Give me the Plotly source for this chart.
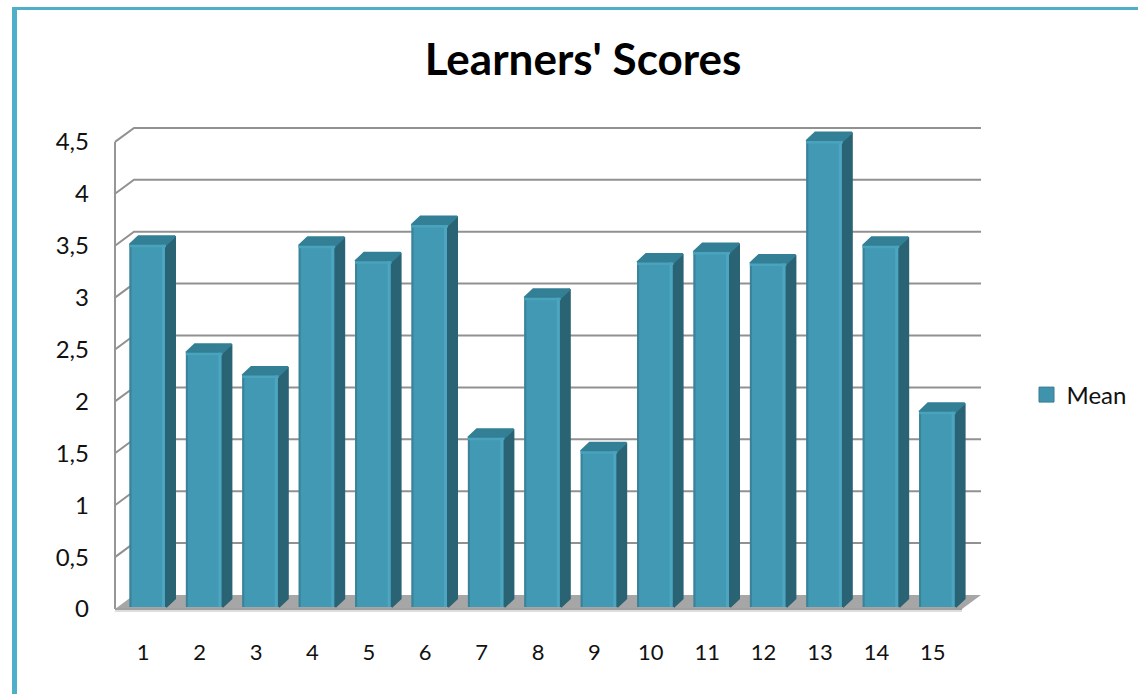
import plotly.graph_objects as go

categories = list(range(1, 16))
means = [3.49, 2.45, 2.23, 3.48, 3.33, 3.68, 1.63, 2.98, 1.50, 3.32, 3.42, 3.31, 4.49, 3.48, 1.88]
y_ticks = [0, 0.5, 1, 1.5, 2, 2.5, 3, 3.5, 4, 4.5]
y_labels = ['0', '0,5', '1', '1,5', '2', '2,5', '3', '3,5', '4', '4,5']

FONT = "Lato"
W, H = 1138, 694
PX_X = 56.4    # pixels per category
PX_Y = 103.8   # pixels per y unit

# plot box in page pixels, a little bigger than the drawn walls so edges are not clipped
LEFT, RIGHT, TOP, BOTTOM = 112, 984, 125, 613
FLOOR_LEFT, FLOOR_Y = 115, 609
x_range = [0.5 - (FLOOR_LEFT - LEFT) / PX_X, 0.5 + (RIGHT - FLOOR_LEFT) / PX_X]
y_range = [-(BOTTOM - FLOOR_Y) / PX_Y, (FLOOR_Y - TOP) / PX_Y]

# fake 3d depth, in data units
wall_dx, wall_dy = 19 / PX_X, 14 / PX_Y
bar_dx, bar_dy = 9 / PX_X, 8.5 / PX_Y
bar_w = 36.5 / PX_X
bar_off = -13.7 / PX_X
bar_base = 2 / PX_Y


def polys(rects):
    xs, ys = [], []
    for pts in rects:
        xs += [p[0] for p in pts] + [pts[0][0], None]
        ys += [p[1] for p in pts] + [pts[0][1], None]
    return xs, ys


def face(rects, color, width=0):
    xs, ys = polys(rects)
    return go.Scatter(x=xs, y=ys, mode='lines', fill='toself', fillcolor=color,
                      line=dict(width=width, color=color), hoverinfo='skip', showlegend=False)


side, top, light, dark, cap = [], [], [], [], []
for c, v in zip(categories, means):
    l = c + bar_off
    r = l + bar_w
    t = bar_base + v
    side.append([(r, bar_base), (r + bar_dx, bar_base + bar_dy), (r + bar_dx, t + bar_dy), (r, t)])
    top.append([(l, t), (l + bar_dx, t + bar_dy), (r + bar_dx, t + bar_dy), (r, t)])
    light.append([(r - 4 / PX_X, bar_base), (r - 1 / PX_X, bar_base), (r - 1 / PX_X, t), (r - 4 / PX_X, t)])
    dark.append([(l, bar_base), (l + 2 / PX_X, bar_base), (l + 2 / PX_X, t), (l, t)])
    cap.append([(l, t - 2.5 / PX_Y), (r, t - 2.5 / PX_Y), (r, t), (l, t)])

fig = go.Figure()
fig.add_trace(go.Bar(x=categories, y=means, base=bar_base, width=bar_w, offset=bar_off,
                     marker=dict(color='#4299B3', line=dict(width=0)),
                     hovertemplate='%{x}: %{y}<extra></extra>', showlegend=False))
fig.add_trace(face(side, '#2A6374', 2))
fig.add_trace(face(top, '#337F95', 2))
fig.add_trace(face(light, '#4CA6C1'))
fig.add_trace(face(dark, '#3B8299'))
fig.add_trace(face(cap, '#4AA3BD'))
# legend entry
fig.add_trace(go.Scatter(x=[None], y=[None], mode='markers', name='Mean',
                         marker=dict(symbol='square', size=15, color='#3F93AD',
                                     line=dict(width=1, color='#3A7C92'))))

shapes = []
x0 = 0.5
x1 = 0.5 + (981 - FLOOR_LEFT) / PX_X
# light lip under the floor
shapes.append(dict(type='line', x0=x0, x1=x1 - wall_dx, y0=-2 / PX_Y, y1=-2 / PX_Y, xref='x', yref='y',
                   layer='below', line=dict(color='#DDDDDD', width=2)))
# floor
floor = f"M{x0},0 L{x0 + wall_dx},{wall_dy} L{x1},{wall_dy} L{x1 - wall_dx},0 Z"
shapes.append(dict(type='path', path=floor, xref='x', yref='y', layer='below',
                   fillcolor='#A6A6A6', line=dict(width=0)))
# gridlines run up the side wall and along the back
for t in y_ticks[1:]:
    p = f"M{x0},{t} L{x0 + wall_dx},{t + wall_dy} L{x1},{t + wall_dy}"
    shapes.append(dict(type='path', path=p, xref='x', yref='y', layer='below',
                       line=dict(color='#919191', width=2)))
# side wall edge and front edge of the floor
shapes.append(dict(type='line', x0=x0, x1=x0, y0=0, y1=y_ticks[-1], xref='x', yref='y',
                   layer='below', line=dict(color='#969696', width=2)))
shapes.append(dict(type='line', x0=x0, x1=x1 - wall_dx, y0=0, y1=0, xref='x', yref='y',
                   layer='below', line=dict(color='#A0A0A0', width=2)))
# frame of the slide
shapes.append(dict(type='rect', xref='paper', yref='paper', x0=12 / W, x1=17 / W, y0=0, y1=1 - 7 / H,
                   fillcolor='#4FAFC9', line=dict(width=0)))
shapes.append(dict(type='rect', xref='paper', yref='paper', x0=12 / W, x1=1, y0=1 - 10 / H, y1=1 - 7 / H,
                   fillcolor='#4FAFC9', line=dict(width=0)))
# bright bevel on the legend swatch
bevel = f"M{1040 / W},{1 - 388.5 / H} L{1053 / W},{1 - 388.5 / H} L{1049 / W},{1 - 393 / H} L{1044 / W},{1 - 393 / H} Z"
shapes.append(dict(type='path', path=bevel, xref='paper', yref='paper', fillcolor='#6FD3EC', line=dict(width=0)))

fig.update_layout(
    width=W, height=H,
    margin=dict(l=0, r=0, t=0, b=0),
    paper_bgcolor='white', plot_bgcolor='rgba(0,0,0,0)',
    font=dict(family=FONT, color='#111111'),
    title=dict(text="<b>Learners' Scores</b>", x=583 / W, xref='paper', xanchor='center',
               y=1 - 60 / H, yref='paper', yanchor='middle', font=dict(size=44, color='black', family=FONT)),
    xaxis=dict(domain=[LEFT / W, RIGHT / W], range=x_range, tickmode='array', tickvals=categories,
               ticktext=[str(c) for c in categories], showgrid=False, zeroline=False, showline=False,
               ticks='', ticklabelstandoff=24, tickfont=dict(size=22), fixedrange=True, automargin=False),
    yaxis=dict(domain=[1 - BOTTOM / H, 1 - TOP / H], range=y_range, tickmode='array', tickvals=y_ticks,
               ticktext=y_labels, showgrid=False, zeroline=False, showline=False,
               ticks='', ticklabelstandoff=22, tickfont=dict(size=24), fixedrange=True, automargin=False),
    legend=dict(x=1026.5 / W, y=1 - 395 / H, xanchor='left', yanchor='middle', itemwidth=30,
                font=dict(size=24), bgcolor='rgba(0,0,0,0)', itemclick=False, itemdoubleclick=False),
    shapes=shapes,
)

fig.write_html("out.html", config={'displayModeBar': False},
               post_script="document.body.style.margin='0';")
